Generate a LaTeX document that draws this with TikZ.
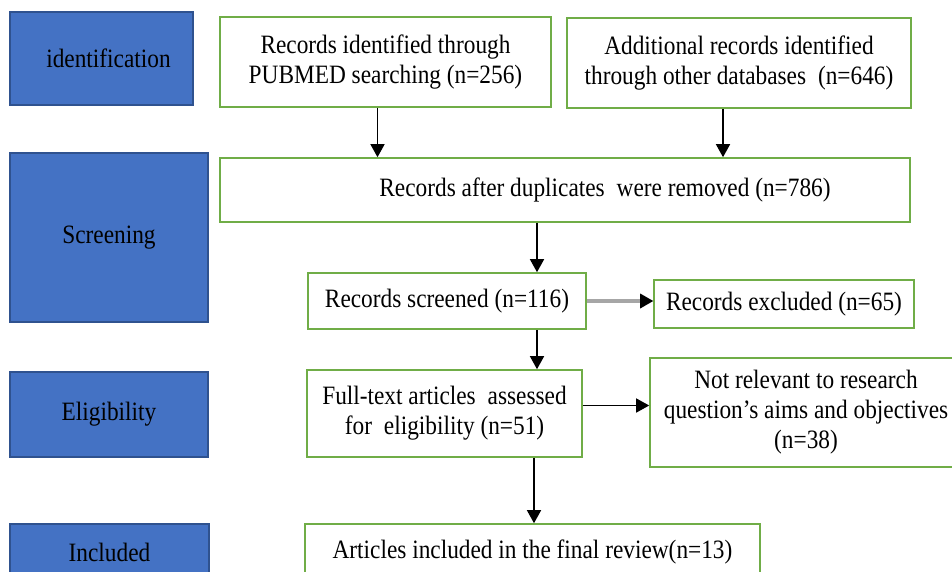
\documentclass[tikz,border=0pt]{standalone}
\usepackage{fontspec}
\setmainfont{Liberation Serif}[FakeStretch=0.88]
\usetikzlibrary{arrows.meta}
\definecolor{phaseblue}{HTML}{4472C4}
\definecolor{phaseedge}{HTML}{2F528F}
\definecolor{boxgreen}{HTML}{70AD47}
\begin{document}
\begin{tikzpicture}[x=1pt,y=-1pt,
  phase/.style={draw=phaseedge, fill=phaseblue, line width=1.2pt, inner sep=0pt,
    font=\fontsize{26.5}{30}\selectfont},
  gbox/.style={draw=boxgreen, fill=white, line width=1.6pt, inner sep=0pt, align=center,
    font=\fontsize{26.5}{30}\selectfont},
  arr/.style={line width=1.4pt, -{Triangle[width=14pt,length=13pt]}},
  grayarr/.style={line width=4pt, draw=gray!70,
    -{Triangle[width=15pt,length=13pt,color=black,line width=0pt]}},
]
\clip (0,0) rectangle (952,571);
\fill[white] (0,0) rectangle (952,571);

% phase boxes
\node[phase, minimum width=183pt, minimum height=93pt] (ident) at (101.5,58.5) {\hspace*{14pt}identification};
\node[phase, minimum width=198pt, minimum height=169pt] (screen) at (109,237.5) {Screening};
\node[phase, minimum width=198pt, minimum height=85pt] (elig) at (109,414.5) {Eligibility};
\node[phase, minimum width=199pt, minimum height=56pt] (incl) at (109.5,552) {Included};

% green boxes
\node[gbox, minimum width=331pt, minimum height=90pt] (pub) at (385.5,62)
  {Records identified through\\PUBMED searching (n=256)};
\node[gbox, minimum width=344pt, minimum height=90pt] (add) at (739,63)
  {Additional records identified\\through other databases\hspace{0.45em}(n=646)};
\node[gbox, minimum width=690pt, minimum height=64pt] (dup) at (565,190)
  {\hspace*{80pt}Records after duplicates\hspace{0.45em}were removed (n=786)};
\node[gbox, minimum width=278pt, minimum height=56pt] (scr) at (447,301)
  {Records screened (n=116)};
\node[gbox, minimum width=260pt, minimum height=48pt] (exc) at (784,304)
  {Records excluded (n=65)};
\node[gbox, minimum width=275pt, minimum height=87pt] (full) at (444.5,413.5)
  {Full-text articles\hspace{0.45em}assessed\\for\hspace{0.45em}eligibility (n=51)};
\node[gbox, minimum width=312pt, minimum height=109pt] (notrel) at (806,412.5)
  {Not relevant to research\\question’s aims and objectives\\(n=38)};
\node[gbox, minimum width=455pt, minimum height=56pt] (final) at (532.5,552)
  {Articles included in the final review(n=13)};

% connectors
\draw[arr] ([xshift=-8pt]pub.south) -- ([xshift=-8pt]pub.south |- dup.north);
\draw[arr] ([xshift=-16pt]add.south) -- ([xshift=-16pt]add.south |- dup.north);
\draw[arr] ([xshift=-28pt]dup.south) -- ([xshift=-28pt]dup.south |- scr.north);
\draw[grayarr] (scr.east) -- (exc.west |- scr.east);
\draw[arr] ([xshift=90pt]scr.south) -- ([xshift=90pt]scr.south |- full.north);
\draw[arr] ([yshift=8pt]full.east) -- ([yshift=8pt]full.east -| notrel.west);
\draw[arr] ([xshift=89.5pt]full.south) -- ([xshift=89.5pt]full.south |- final.north);
\end{tikzpicture}
\end{document}
